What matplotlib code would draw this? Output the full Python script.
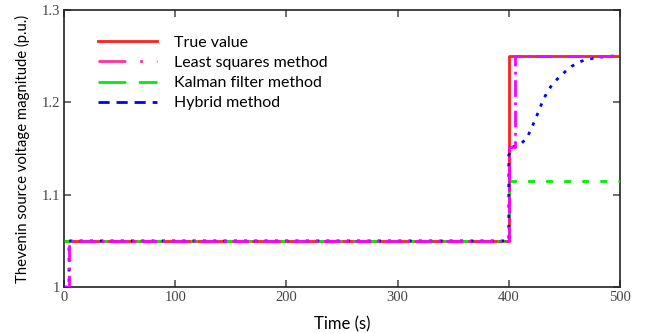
import numpy as np
import matplotlib.pyplot as plt
from matplotlib.lines import Line2D

# true value
t_true = [0, 400, 400, 500]
v_true = [1.05, 1.05, 1.25, 1.25]

# least squares method
t_ls = [0, 4.5, 4.5, 400, 400, 405.5, 405.5, 500]
v_ls = [1.0, 1.0, 1.05, 1.05, 1.152, 1.152, 1.25, 1.25]

# kalman filter method
t_kf = [0, 400, 400, 500]
v_kf = [1.05, 1.05, 1.115, 1.115]

# hybrid method
t_hy = [0, 4.5, 4.5, 400, 400, 404, 410, 416, 420.5, 423.6, 427.4, 431, 435.5,
        440, 446, 450.5, 456.5, 464, 471.5, 479, 488, 500]
v_hy = [1.0, 1.0, 1.05, 1.05, 1.143, 1.152, 1.154, 1.161, 1.172, 1.181, 1.192,
        1.203, 1.213, 1.221, 1.228, 1.233, 1.239, 1.244, 1.247, 1.248, 1.250, 1.25]

xticks = [0, 100, 200, 300, 400, 500]
yticks = [1, 1.1, 1.2, 1.3]
ylabels = ['1', '1.1', '1.2', '1.3']

fig = plt.figure(figsize=(6.49, 3.33), dpi=100)
ax = fig.add_axes([0.0986, 0.138, 0.8567, 0.832])

ax.plot(t_true, v_true, color='#ff2020', lw=2, zorder=2)
ax.plot(t_kf, v_kf, color='#00ee00', lw=2, dashes=(2.5, 4), zorder=3)
ax.plot(t_hy, v_hy, color='#0000ff', lw=2, dashes=(1.2, 2.5), zorder=4)
ax.plot(t_ls, v_ls, color='#ff00ff', lw=2, dashes=(6, 2, 1, 2), zorder=5)

ax.set_xlim(0, 500)
ax.set_ylim(1, 1.3)
ax.set_xticks(xticks)
ax.set_yticks(yticks)
ax.set_yticklabels(ylabels)
ax.tick_params(direction='in', top=True, right=True, length=5, width=1.2,
               colors='#555555', labelcolor='#444444', labelsize=10.5, pad=3)
for lab in ax.get_xticklabels() + ax.get_yticklabels():
    lab.set_family('Liberation Serif')
for s in ax.spines.values():
    s.set_linewidth(1.2)
    s.set_color('#222222')

ax.set_xlabel('Time (s)', family='Lato', fontsize=12, labelpad=9)
ax.set_ylabel('Thevenin source voltage magnitude (p.u.)', family='Lato',
              fontsize=10.7, labelpad=8)

handles = [
    Line2D([], [], color='#ff2020', lw=2),
    Line2D([], [], color='#ff3399', lw=2, dashes=(10, 5, 1, 5)),
    Line2D([], [], color='#00ee00', lw=2, dashes=(10, 4.5)),
    Line2D([], [], color='#0000ff', lw=2, dashes=(4, 2.5)),
]
labels = ['True value', 'Least squares method', 'Kalman filter method', 'Hybrid method']
ax.legend(handles, labels, loc='upper left', bbox_to_anchor=(0.035, 0.96),
          frameon=False, handlelength=3.7, handletextpad=1.1, labelspacing=0.38,
          prop={'family': 'Lato', 'size': 11.5})

fig.savefig('out.png', dpi=100)
